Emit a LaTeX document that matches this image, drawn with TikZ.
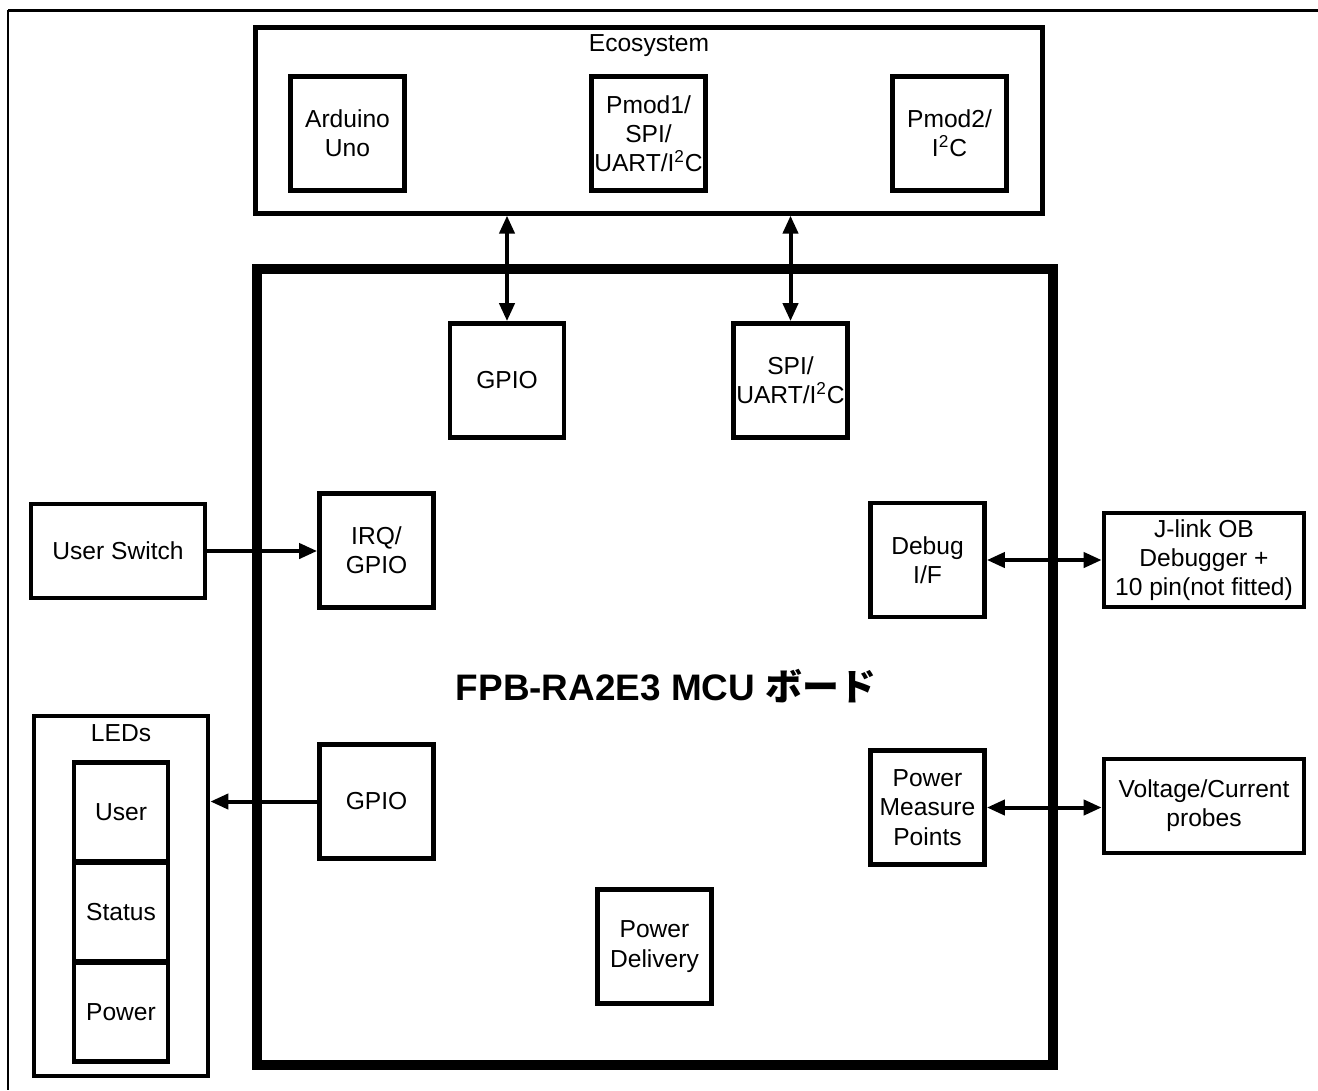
\documentclass[tikz,border=0pt]{standalone}
\usepackage{fontspec}
\setmainfont{Liberation Sans}
\newfontfamily\jpfont{Noto Sans CJK JP}
\usepackage{tikz}
\usetikzlibrary{arrows.meta}

\tikzset{
  blk/.style={draw, line width=0.095cm, minimum width=2.28cm, minimum height=2.28cm,
    align=center, inner sep=0pt},
  wide/.style={blk, minimum width=3.48cm, minimum height=1.88cm},
  ledbox/.style={blk, minimum width=1.88cm, minimum height=1.98cm},
  link/.style={line width=0.08cm, -{Triangle[length=0.36cm,width=0.3cm]}},
  bilink/.style={line width=0.08cm, {Triangle[length=0.36cm,width=0.3cm]}-{Triangle[length=0.36cm,width=0.3cm]}}
}

\begin{document}
\begin{tikzpicture}[x=0.02cm, y=-0.02cm, font=\fontsize{14}{16.6}\selectfont]
  \useasboundingbox (0,0) rectangle (1318,1090);
  % frame (only top and left edge show)
  \draw[line width=0.06cm] (8,10) -- (1318,10);
  \draw[line width=0.04cm] (8,10) -- (8,1090);

  % ecosystem
  \node[draw, line width=0.085cm, minimum width=15.74cm, minimum height=3.72cm] (eco) at (649,120.5) {};
  \node at (649,46) {Ecosystem};
  \node[blk] (arduino) at (347.5,133.5) {Arduino\\Uno};
  \node[blk] (pmod1) at (648.5,133.5) {Pmod1/\\SPI/\\UART/I\textsuperscript{2}C};
  \node[blk] (pmod2) at (949.5,133.5) {Pmod2/\\I\textsuperscript{2}C};

  % MCU board
  \node[draw, line width=0.2cm, minimum width=15.92cm, minimum height=15.92cm] (mcu) at (655,667) {};
  \node[font=\fontsize{21}{25}\selectfont\bfseries] (title) at (666,686) {FPB-RA2E3 MCU {\jpfont ボード}};
  \node[blk] (gpiotop) at (507,380.5) {GPIO};
  \node[blk] (spi) at (790.5,380.5) {SPI/\\UART/I\textsuperscript{2}C};
  \node[blk] (irq) at (376.5,550.5) {IRQ/\\GPIO};
  \node[blk] (debug) at (927.5,560) {Debug\\I/F};
  \node[blk] (gpioleft) at (376.5,801.5) {GPIO};
  \node[blk] (pmp) at (927.5,807.5) {Power\\Measure\\Points};
  \node[blk] (pdel) at (654.5,946.5) {Power\\Delivery};

  % outside blocks
  \node[wide] (switch) at (118,551) {User Switch};
  \node[wide, minimum width=4.0cm] (jlink) at (1204,560) {J-link OB\\Debugger +\\10 pin(not fitted)};
  \node[wide, minimum width=4.0cm] (probes) at (1204,806) {Voltage/Current\\probes};

  % LEDs
  \node[draw, line width=0.095cm, minimum width=3.48cm, minimum height=7.2cm] (leds) at (121,896) {};
  \node at (121,733) {LEDs};
  \node[ledbox] (ledu) at (121,812) {User};
  \node[ledbox] (leds2) at (121,912) {Status};
  \node[ledbox] (ledp) at (121,1012) {Power};

  % connections
  \draw[bilink] (gpiotop.north |- eco.south) -- (gpiotop.north);
  \draw[bilink] (spi.north |- eco.south) -- (spi.north);
  \draw[link] (switch.east) -- (irq.west |- switch.east);
  \draw[link] (gpioleft.west) -- (leds.east |- gpioleft.west);
  \draw[bilink] (debug.east) -- (jlink.west |- debug.east);
  \draw[bilink] (pmp.east) -- (probes.west |- pmp.east);
\end{tikzpicture}
\end{document}
